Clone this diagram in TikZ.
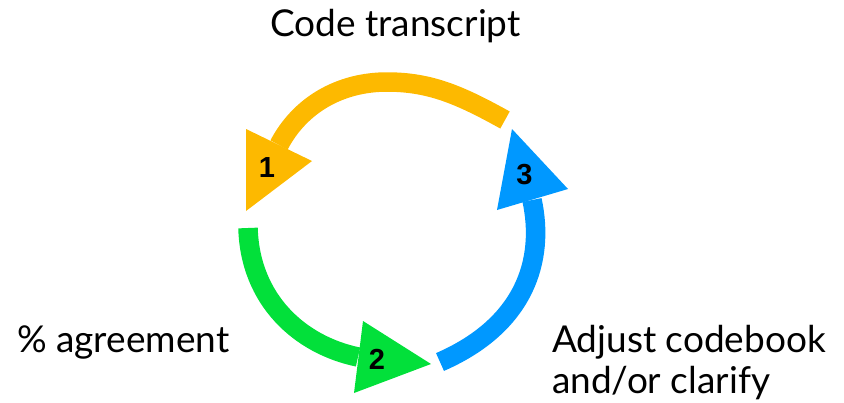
\documentclass[tikz,border=0pt]{standalone}
\usepackage{fontspec}
\setmainfont{Lato}
\newfontfamily\digitfont{Liberation Sans}
\definecolor{cycorange}{RGB}{253,185,0}
\definecolor{cycgreen}{RGB}{2,224,58}
\definecolor{cycblue}{RGB}{0,152,255}
\tikzset{
  shaft/.style={line width=19.5pt, line cap=butt},
  label/.style={font=\fontsize{37}{41}\selectfont, inner sep=0pt},
  stepnum/.style={font=\digitfont\bfseries\fontsize{29}{32}\selectfont, inner sep=0pt}
}
\begin{document}
\begin{tikzpicture}[x=1pt, y=-1pt]
  \useasboundingbox (0,0) rectangle (844,402);

  % step 1: orange arc over the top, head pointing down-left
  \coordinate (oTail) at (505,120);
  \coordinate (oTop)  at (387,82);
  \coordinate (oBase) at (279,145);
  \draw[shaft, cycorange] (oTail) .. controls (460,95) and (430,82) .. (oTop)
        .. controls (340,82) and (300,105) .. (oBase);
  \fill[cycorange] (246,129) -- (312,161) -- (246,211) -- cycle;

  % step 2: green arc on the lower left, head pointing right
  \coordinate (gTail) at (248,228);
  \coordinate (gBase) at (358,357);
  \draw[shaft, cycgreen] (gTail) .. controls (250,300) and (300,345) .. (gBase);
  \fill[cycgreen] (363,321) -- (431,364) -- (354,393) -- cycle;

  % step 3: blue arc on the right, head pointing up
  \coordinate (bTail) at (440,362);
  \coordinate (bBase) at (532,200);
  \draw[shaft, cycblue] (bTail) .. controls (525,325) and (545,260) .. (bBase);
  \fill[cycblue] (512,129) -- (568,189) -- (497,210) -- cycle;

  % step numbers
  \node[stepnum] (n1) at (267,168) {1};
  \node[stepnum] (n2) at (377,359) {2};
  \node[stepnum] (n3) at (524.5,175) {3};

  % captions
  \node[label, anchor=base] (code) at (395.5,36) {Code transcript};
  \node[label, anchor=base west] (agree) at (17,352) {\% agreement};
  \node[label, anchor=base west, align=left] (adjust) at (552,393)
        {Adjust codebook\\and/or clarify};
\end{tikzpicture}
\end{document}
